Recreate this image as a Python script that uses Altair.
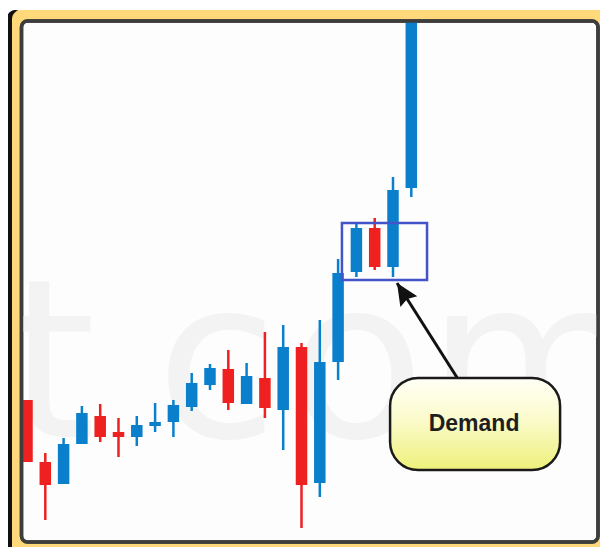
import math
import altair as alt
import pandas as pd

# ---- candle data (index, price units) ----
idx = list(range(22))
opens  = [31.0, 18.6, 14.2, 22.2, 27.8, 24.6, 23.6, 25.8, 26.6, 29.6, 34.0,
          37.2, 30.2, 35.4, 29.0, 41.6, 14.4, 38.6, 56.6, 65.4, 57.6, 73.4]
highs  = [31.0, 20.4, 23.4, 29.8, 30.2, 27.4, 27.8, 30.4, 31.0, 36.4, 38.2,
          41.0, 38.4, 44.6, 46.0, 42.4, 47.0, 59.2, 66.6, 67.4, 75.6, 108.0]
lows   = [18.6, 7.0, 14.2, 22.2, 22.6, 19.6, 21.8, 24.6, 23.6, 28.8, 33.0,
          29.0, 30.2, 27.4, 21.0, 5.4, 11.6, 35.0, 55.6, 57.0, 55.6, 71.6]
closes = [18.6, 14.0, 22.2, 28.4, 23.6, 23.6, 26.0, 26.6, 30.0, 34.4, 37.4,
          30.4, 35.8, 29.4, 41.6, 14.0, 38.6, 56.4, 65.4, 57.6, 73.0, 108.0]

# ---- annotation anchors (index / price units) ----
demand_box = {"x0": 17.21, "x1": 21.86, "p0": 55.0, "p1": 66.4}
arrow = {"xt": 23.55, "pt": 35.2, "xh": 20.22, "ph": 54.4}
label_box = {"x0": 19.84, "x1": 29.13, "p0": 17.0, "p1": 35.4}
label_text = {"x": 24.43, "p": 26.2, "text": "Demand"}
wm_letters = ["t", "c", "o", "m"]
wm_x = [1.37, 10.38, 18.03, 27.76]
wm_p = [23.6, 23.6, 23.6, 23.6]

BLUE = "#0a80cc"
RED = "#ee2020"
W, H = 576.5, 521
XDOM = [-0.3005, 31.2022]
YDOM = [2.6, 106.8]
px_per_x = W / (XDOM[1] - XDOM[0])
px_per_y = H / (YDOM[1] - YDOM[0])

xs = alt.Scale(domain=XDOM, nice=False, zero=False, padding=0)
ys = alt.Scale(domain=YDOM, nice=False, zero=False, padding=0)

df = pd.DataFrame({"i": idx, "open": opens, "high": highs, "low": lows, "close": closes})
df["dir"] = ["up" if c > o else "down" for o, c in zip(opens, closes)]
color = alt.Color("dir:N", scale=alt.Scale(domain=["up", "down"], range=[BLUE, RED]), legend=None)

one = pd.DataFrame({"a": [0]})

black = alt.Chart(one).mark_rect(fill="#111111", cornerRadius=10, clip=False).encode(
    x=alt.value(-14.5), x2=alt.value(2), y=alt.value(-11), y2=alt.value(535))
yellow = alt.Chart(one).mark_rect(fill="#FFD87A", cornerRadius=9, clip=False).encode(
    x=alt.value(-9.5), x2=alt.value(W + 10), y=alt.value(-11), y2=alt.value(H + 15))
panel = alt.Chart(one).mark_rect(fill="#fdfdfd", stroke="#3d3d3d", strokeWidth=3.5,
                                 cornerRadius=6, clip=False).encode(
    x=alt.value(0), x2=alt.value(W), y=alt.value(0), y2=alt.value(H))
panel_border = alt.Chart(one).mark_rect(fill="#ffffff", fillOpacity=0, stroke="#3d3d3d",
                                        strokeWidth=3.5, cornerRadius=6, clip=False).encode(
    x=alt.value(0), x2=alt.value(W), y=alt.value(0), y2=alt.value(H))

wm = alt.Chart(pd.DataFrame({"t": wm_letters, "x": wm_x, "p": wm_p})).mark_text(
    font="DejaVu Sans", fontSize=222, color="#f3f3f3", align="center",
    baseline="alphabetic", clip=True).encode(
    x=alt.X("x:Q", scale=xs, axis=None), y=alt.Y("p:Q", scale=ys, axis=None), text="t:N")

wicks = alt.Chart(df).mark_rule(strokeWidth=2.5, clip=True).encode(
    x=alt.X("i:Q", scale=xs, axis=None),
    y=alt.Y("low:Q", scale=ys, axis=None), y2="high:Q", color=color)
bodies = alt.Chart(df).mark_bar(size=11.5, clip=True).encode(
    x=alt.X("i:Q", scale=xs, axis=None),
    y=alt.Y("open:Q", scale=ys, axis=None), y2="close:Q", color=color)

box = alt.Chart(pd.DataFrame([demand_box])).mark_rect(
    fill="#ffffff", fillOpacity=0, stroke="#4353c8", strokeWidth=2.5).encode(
    x=alt.X("x0:Q", scale=xs, axis=None), x2="x1:Q",
    y=alt.Y("p0:Q", scale=ys, axis=None), y2="p1:Q")

dx = (arrow["xh"] - arrow["xt"]) * px_per_x
dy = -(arrow["ph"] - arrow["pt"]) * px_per_y
ang = math.degrees(math.atan2(dx, -dy)) % 360
arrow_line = alt.Chart(pd.DataFrame([arrow])).mark_rule(color="#111111", strokeWidth=3).encode(
    x=alt.X("xt:Q", scale=xs, axis=None), x2="xh:Q",
    y=alt.Y("pt:Q", scale=ys, axis=None), y2="ph:Q")
arrow_head = alt.Chart(pd.DataFrame([arrow])).mark_point(
    shape="M0,0 L-1,2.2 L0,1.9 L1,2.2 Z", size=400, filled=True, color="#111111",
    opacity=1, angle=ang).encode(
    x=alt.X("xh:Q", scale=xs, axis=None), y=alt.Y("ph:Q", scale=ys, axis=None))

grad = alt.Gradient(gradient="linear", x1=0, y1=0, x2=0, y2=1,
                    stops=[alt.GradientStop(offset=0, color="#fffff6"),
                           alt.GradientStop(offset=0.45, color="#fbfbcc"),
                           alt.GradientStop(offset=1, color="#eef07a")])
lbl = alt.Chart(pd.DataFrame([label_box])).mark_rect(
    fill=grad, stroke="#1a1a1a", strokeWidth=2.5, cornerRadius=28).encode(
    x=alt.X("x0:Q", scale=xs, axis=None), x2="x1:Q",
    y=alt.Y("p0:Q", scale=ys, axis=None), y2="p1:Q")
lbl_text = alt.Chart(pd.DataFrame([label_text])).mark_text(
    font="Liberation Sans", fontWeight="bold", fontSize=23, color="#1e1e1e",
    align="center", baseline="middle").encode(
    x=alt.X("x:Q", scale=xs, axis=None), y=alt.Y("p:Q", scale=ys, axis=None), text="text:N")

chart = alt.layer(black, yellow, panel, wm, wicks, bodies, panel_border, box,
                  arrow_line, arrow_head, lbl, lbl_text).properties(
    width=W, height=H,
    padding={"left": 13.5, "top": 13, "right": 2, "bottom": 5},
    autosize="none", background="white",
).configure_view(stroke=None, fill=None)

chart.save("out.html", embed_options={"renderer": "svg", "actions": False})
